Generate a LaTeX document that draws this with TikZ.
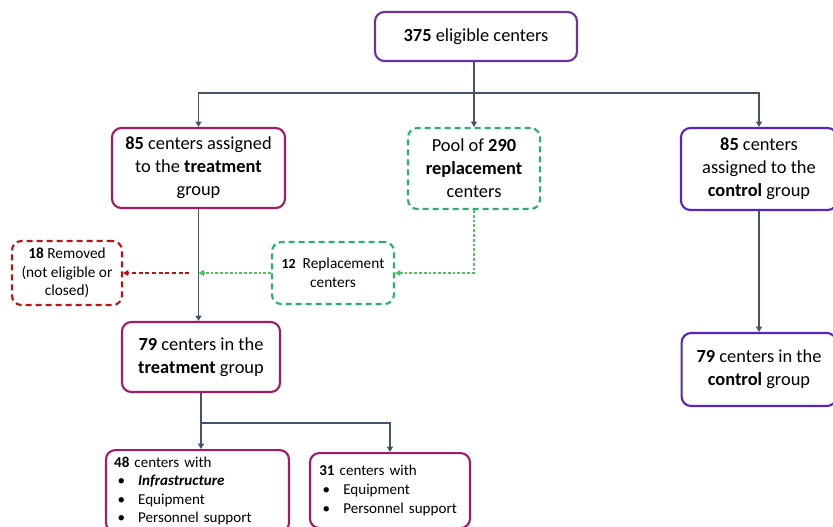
\documentclass[tikz,border=0pt]{standalone}
\usepackage{fontspec}
\setmainfont{Carlito}
\usepackage{xcolor}
\definecolor{flowpurple}{RGB}{112, 48, 160}
\definecolor{flowtreat}{RGB}{160, 28, 100}
\definecolor{flowctrl}{RGB}{88, 36, 196}
\definecolor{flowgreen}{RGB}{40, 176, 112}
\definecolor{flowlime}{RGB}{80, 196, 90}
\definecolor{flowred}{RGB}{192, 16, 16}
\definecolor{flowline}{RGB}{68, 84, 106}
\usetikzlibrary{calc, arrows.meta}

\tikzset{
    box/.style={draw, rounded corners=7pt, line width=1.6pt, fill=white,
        align=center, inner sep=2pt, font=\fontsize{13.8}{17.25}\selectfont},
    smallbox/.style={box, font=\fontsize{11.5}{14}\selectfont},
    listbox/.style={box, font=\fontsize{11.3}{13.7}\selectfont, anchor=north, align=left},
    dashbox/.style={dash pattern=on 4.5pt off 3pt},
    link/.style={draw=flowline, line width=0.9pt, -{Triangle[width=4.5pt,length=4pt]}},
    dotlink/.style={line width=0.9pt, dash pattern=on 2pt off 1.6pt,
        -{Triangle[width=4.5pt,length=4pt]}},
}
\newcommand{\bul}[1]{\makebox[18pt][l]{\hspace{2.5pt}\textbullet}#1}

\begin{document}
\begin{tikzpicture}[x=0.75pt, y=-0.75pt]
\useasboundingbox (0,0) rectangle (833,526);

% === Randomisation ===
\node[box, draw=flowpurple, minimum width=151.5pt, minimum height=36.75pt]
    (eligible) at (476,36.5) {\textbf{375} eligible centers};

\node[box, draw=flowtreat, minimum width=129.75pt, minimum height=60pt]
    (treat) at (198.5,168) {\textbf{85} centers assigned\\to the \textbf{treatment}\\group};
\node[box, dashbox, draw=flowgreen, minimum width=99pt, minimum height=60.75pt]
    (pool) at (474,168.5) {Pool of \textbf{290}\\\textbf{replacement}\\centers};
\node[box, draw=flowctrl, minimum width=117pt, minimum height=61.5pt]
    (ctrl) at (759,169) {\textbf{85} centers\\assigned to the\\\textbf{control} group};

\coordinate (split) at (474,93);
\draw[link] (eligible.south -| split) -- (split) -| (treat.north);
\draw[link] (split) -| (ctrl.north);
\draw[link] (split) -- (pool.north);

% === Replacement ===
\node[smallbox, dashbox, draw=flowgreen, minimum width=91.5pt, minimum height=46.5pt]
    (repl) at (333,273) {{\fontsize{10.5}{14}\selectfont\textbf{12}}~ Replacement\\centers};
\node[smallbox, dashbox, draw=flowred, minimum width=82.5pt, minimum height=48pt]
    (removed) at (67,273) {\textbf{18} Removed\\(not eligible or\\closed)};

% === Final groups ===
\node[box, draw=flowtreat, minimum width=118.5pt, minimum height=52.5pt]
    (treatfin) at (201,357) {\textbf{79} centers in the\\\textbf{treatment} group};
\node[box, draw=flowctrl, minimum width=116pt, minimum height=54.75pt]
    (ctrlfin) at (759,369.5) {\textbf{79} centers in the\\\textbf{control} group};

\draw[link] (treat.south) -- (treat.south |- treatfin.north);
\draw[link] (ctrl.south) -- (ctrlfin.north);

\coordinate (merge) at (treat.south |- repl.west);
\draw[dotlink, flowlime] (pool.south) |- (repl.east);
\draw[dotlink, flowlime] (repl.west) -- (merge);
\draw[dotlink, flowred, dash pattern=on 3pt off 2pt] ([xshift=-7pt]merge) -- (removed.east);

% === Support packages ===
\node[listbox, draw=flowtreat, minimum width=137.25pt, minimum height=61.5pt,
    inner xsep=6pt, text width=125pt] (pkgfull) at (197.5,449)
    {\textbf{48} centers with\\\bul{\textbf{\textit{Infrastructure}}}\\\bul{Equipment}\\\bul{Personnel support}};
\node[listbox, draw=flowtreat, minimum width=120pt, minimum height=56.25pt,
    inner xsep=7pt, text width=106pt, font=\fontsize{11.3}{14}\selectfont] (pkgpart) at (390,452)
    {\textbf{31} centers with\\\bul{Equipment}\\\bul{Personnel support}};

\coordinate (split2) at ([yshift=-22.5pt]treatfin.south);
\draw[link] (treatfin.south) -- (split2) -- (split2 |- pkgfull.north);
\draw[link] (split2) -| (pkgpart.north);

\end{tikzpicture}
\end{document}
